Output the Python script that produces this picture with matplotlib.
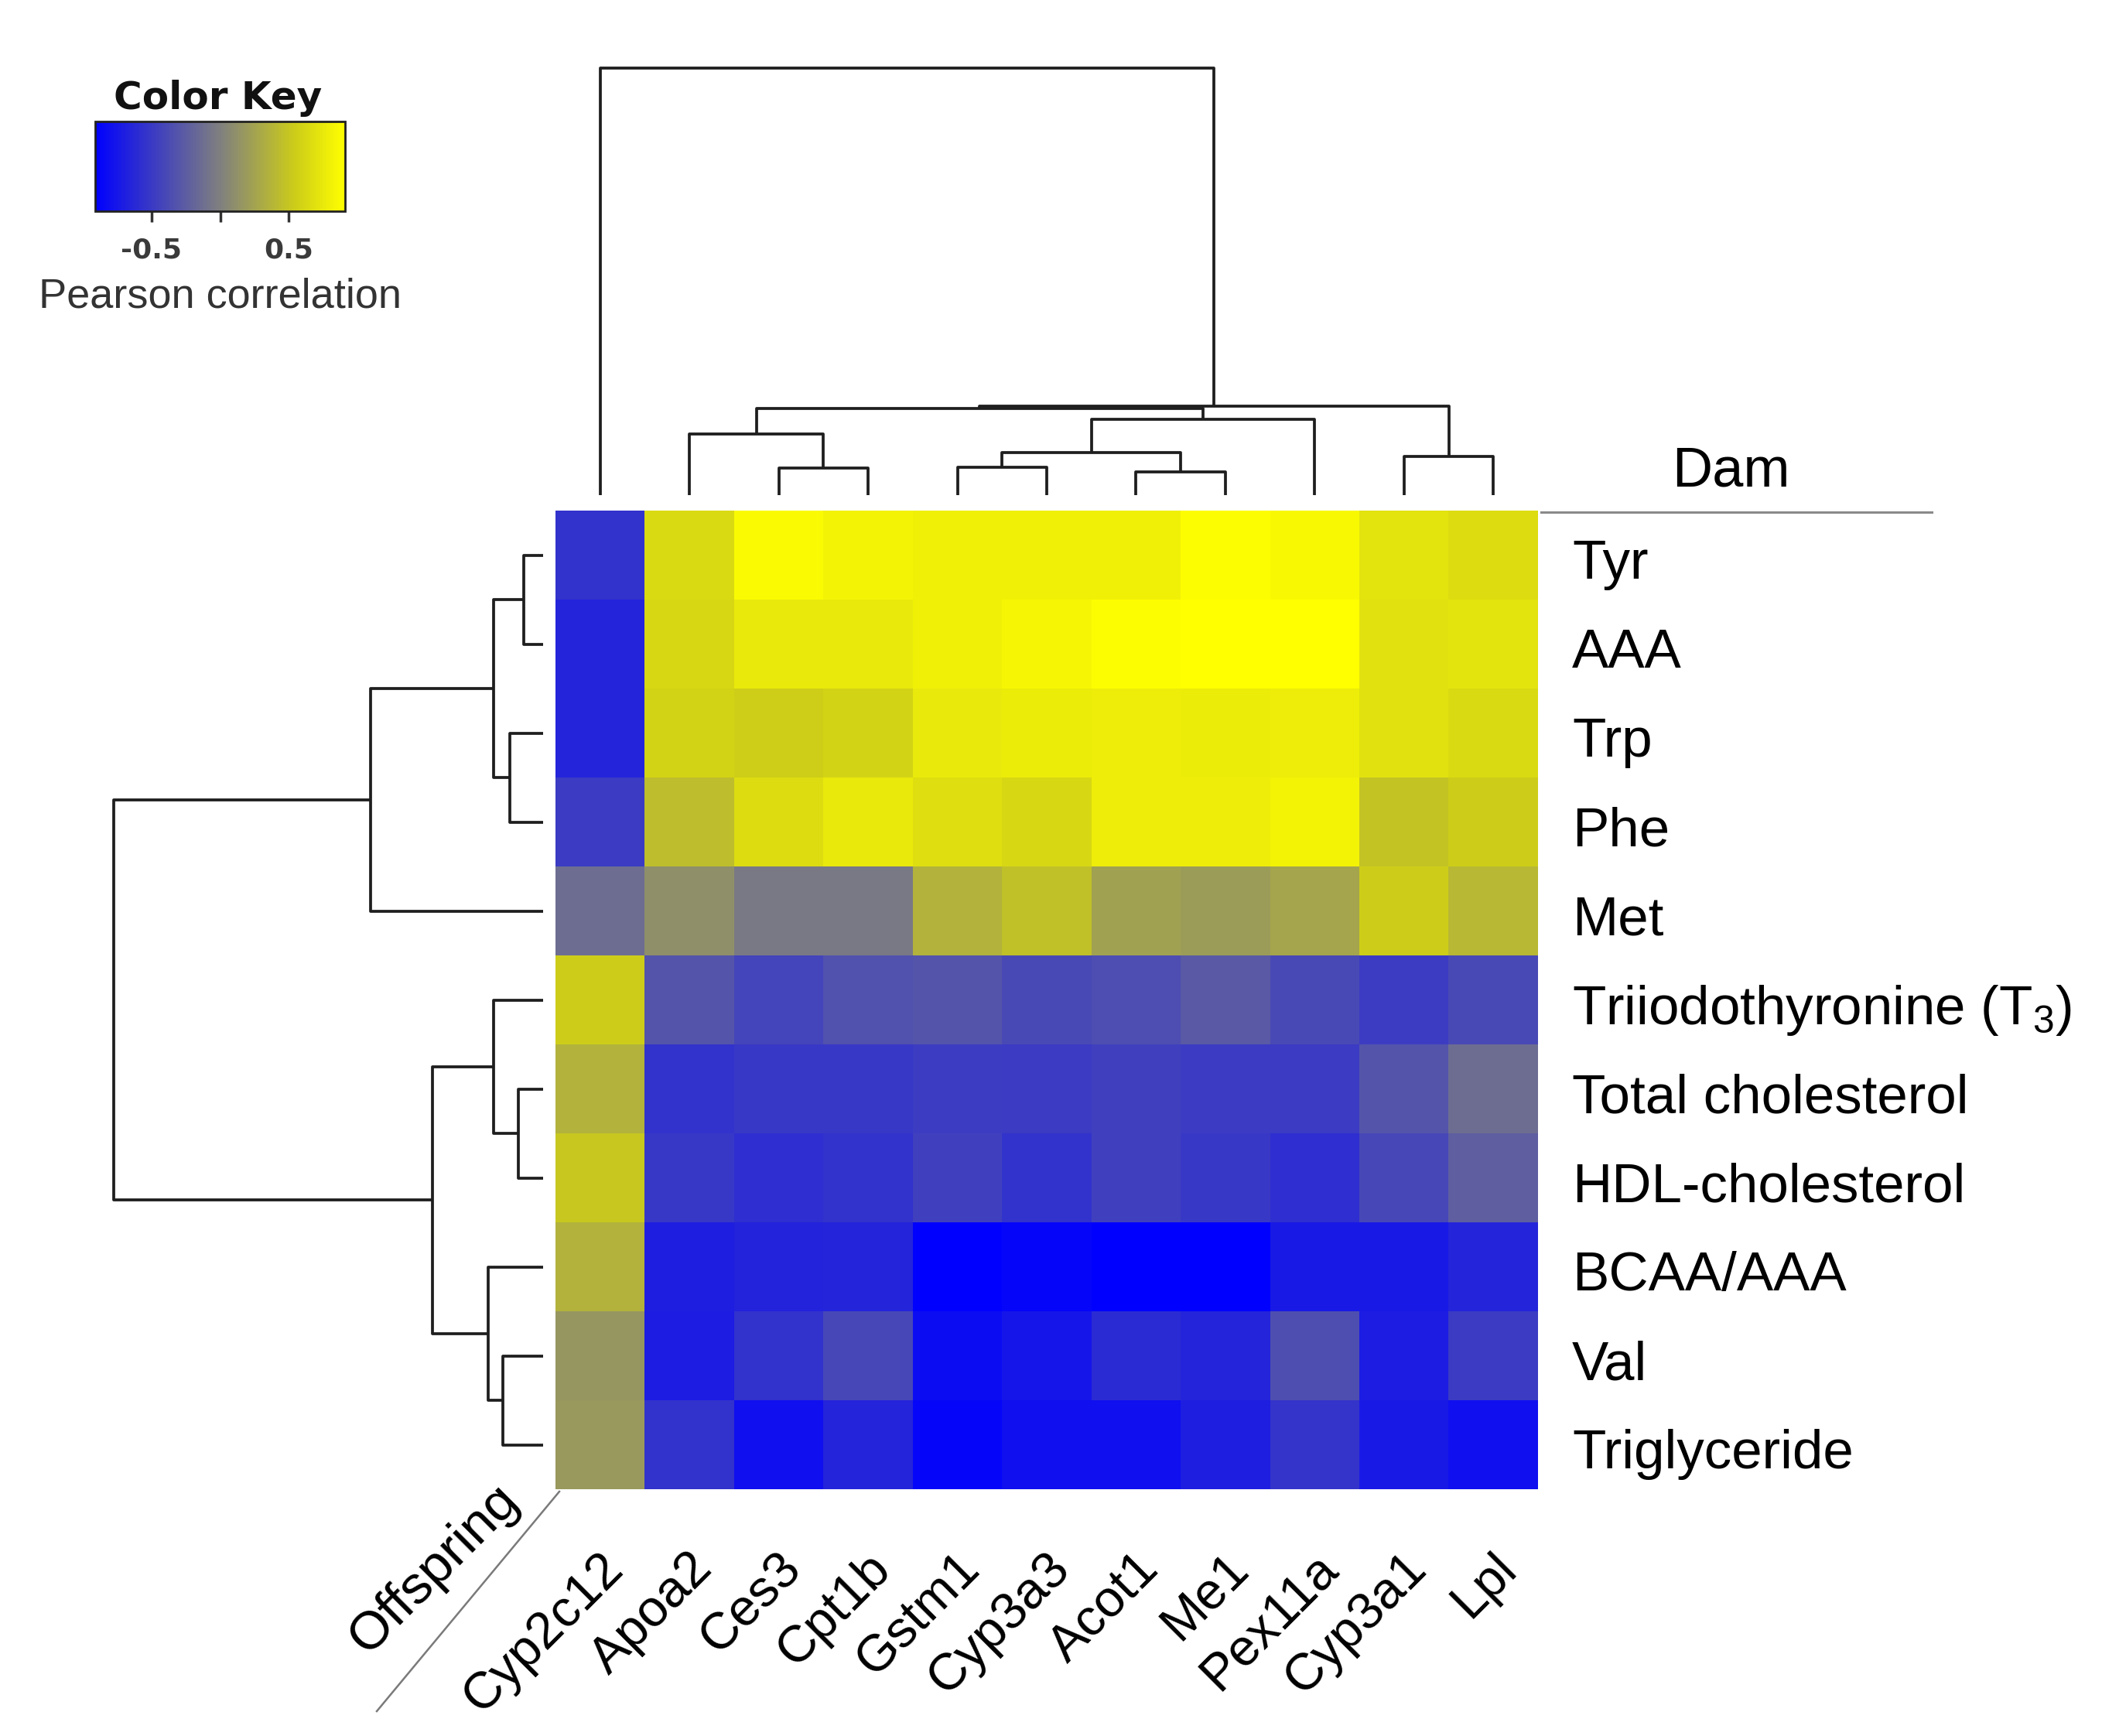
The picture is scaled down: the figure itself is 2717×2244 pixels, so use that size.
import numpy as np
import matplotlib
matplotlib.use("Agg")
import matplotlib.pyplot as plt
from matplotlib.colors import LinearSegmentedColormap

plt.rcParams['font.family'] = ['Liberation Sans', 'DejaVu Sans']
plt.rcParams['mathtext.fontset'] = 'custom'
plt.rcParams['mathtext.rm'] = 'Liberation Sans'
plt.rcParams['mathtext.it'] = 'Liberation Sans:italic'

# ---------------- data ----------------
row_labels = ["Tyr", "AAA", "Trp", "Phe", "Met", "Triiodothyronine (T$_\\mathrm{3}$)",
              "Total cholesterol", "HDL-cholesterol", "BCAA/AAA", "Val", "Triglyceride"]
col_labels = ["Cyp2c12", "Apoa2", "Ces3", "Cpt1b", "Gstm1", "Cyp3a3",
              "Acot1", "Me1", "Pex11a", "Cyp3a1", "Lpl"]

r_tyr   = [-0.55, 0.64, 0.87, 0.82, 0.80, 0.80, 0.80, 0.89, 0.86, 0.71, 0.66]
r_aaa   = [-0.64, 0.62, 0.75, 0.75, 0.80, 0.84, 0.89, 0.91, 0.91, 0.69, 0.71]
r_trp   = [-0.64, 0.60, 0.56, 0.60, 0.75, 0.77, 0.78, 0.77, 0.78, 0.69, 0.64]
r_phe   = [-0.49, 0.44, 0.66, 0.75, 0.67, 0.62, 0.78, 0.78, 0.82, 0.49, 0.55]
r_met   = [-0.13, 0.11, -0.04, -0.04, 0.36, 0.46, 0.24, 0.20, 0.27, 0.55, 0.40]
r_t3    = [0.55, -0.31, -0.42, -0.33, -0.31, -0.38, -0.36, -0.27, -0.38, -0.47, -0.38]
r_tchol = [0.36, -0.55, -0.51, -0.51, -0.47, -0.49, -0.45, -0.49, -0.49, -0.31, -0.13]
r_hdl   = [0.51, -0.51, -0.58, -0.55, -0.45, -0.55, -0.45, -0.51, -0.58, -0.40, -0.24]
r_bcaa  = [0.36, -0.69, -0.66, -0.64, -0.91, -0.87, -0.91, -0.91, -0.73, -0.73, -0.64]
r_val   = [0.16, -0.71, -0.55, -0.40, -0.82, -0.76, -0.60, -0.64, -0.35, -0.71, -0.49]
r_trig  = [0.18, -0.55, -0.80, -0.64, -0.87, -0.80, -0.80, -0.69, -0.53, -0.73, -0.80]

# dendrogram merges: (child_a, child_b, height); children >= 11 refer to earlier merges
row_merges = [(0, 1, 25), (2, 3, 43), (11, 12, 64), (13, 4, 223), (6, 7, 32),
              (5, 15, 64), (9, 10, 52), (8, 17, 71), (16, 18, 143), (14, 19, 555)]
col_merges = [(2, 3, 35), (1, 11, 79), (4, 5, 36), (6, 7, 30), (13, 14, 55),
              (15, 8, 98), (12, 16, 112), (9, 10, 50), (17, 18, 115), (0, 19, 552)]

key_ticks = [-0.5, 0.0, 0.5]
key_ticklabels = ["-0.5", "", "0.5"]
vmin, vmax = -0.91, 0.91

data = np.array([r_tyr, r_aaa, r_trp, r_phe, r_met, r_t3, r_tchol, r_hdl,
                 r_bcaa, r_val, r_trig])
nr, nc = data.shape

# ---------------- layout ----------------
W, H = 2717, 2244
fig = plt.figure(figsize=(W / 100, H / 100), dpi=100)

def rect(x0, y0, x1, y1):
    return [x0 / W, 1 - y1 / H, (x1 - x0) / W, (y1 - y0) / H]

cmap = LinearSegmentedColormap.from_list(
    "by", [(0.0, (0, 0, 1)), (0.5, (0.5, 0.5, 0.5)),
           (0.8, (0.80, 0.80, 0.10)), (1.0, (1, 1, 0))])

hm_l, hm_r, hm_t, hm_b = 718, 1988, 660, 1925
ax = fig.add_axes(rect(hm_l, hm_t, hm_r, hm_b))
im = ax.imshow(data, cmap=cmap, vmin=vmin, vmax=vmax, aspect='auto',
               interpolation='nearest', extent=[0, nc, nr, 0])
ax.set_xlim(0, nc)
ax.set_ylim(nr, 0)
ax.axis('off')

lc = '#1e1e1e'
lw = 2.7

def dendro_coords(merges, n):
    pos = {i: i + 0.5 for i in range(n)}
    hgt = {i: 0.0 for i in range(n)}
    segs = []
    for k, (a, b, h) in enumerate(merges):
        node = n + k
        segs.append(([pos[a], pos[a], pos[b], pos[b]], [hgt[a], h, h, hgt[b]]))
        pos[node] = (pos[a] + pos[b]) / 2
        hgt[node] = h
    return segs

# row dendrogram (left)
axr = fig.add_axes(rect(147, hm_t, 702, hm_b))
for p, h in dendro_coords(row_merges, nr):
    axr.plot(h, p, color=lc, lw=lw, solid_capstyle='butt', clip_on=False)
axr.set_xlim(max(m[2] for m in row_merges), 0)
axr.set_ylim(nr, 0)
axr.axis('off')

# column dendrogram (top)
axc = fig.add_axes(rect(hm_l, 87.5, hm_r, 640))
for p, h in dendro_coords(col_merges, nc):
    axc.plot(p, h, color=lc, lw=lw, solid_capstyle='butt', clip_on=False)
axc.set_xlim(0, nc)
axc.set_ylim(0, max(m[2] for m in col_merges))
axc.axis('off')

# color key
axk = fig.add_axes(rect(123, 157, 446, 273))
cb = fig.colorbar(im, cax=axk, orientation='horizontal')
cb.set_ticks(key_ticks)
cb.set_ticklabels(key_ticklabels)
axk.tick_params(axis='x', length=10, width=2.5, color='#333333', pad=14,
                labelsize=26, labelcolor='#3a3a3a')
for t in axk.get_xticklabels():
    t.set_fontfamily('DejaVu Sans')
    t.set_fontweight('bold')
cb.outline.set_linewidth(2.0)
cb.outline.set_edgecolor('#222222')

# overlay for annotations
ov = fig.add_axes([0, 0, 1, 1], zorder=-1)
ov.set_xlim(0, W)
ov.set_ylim(H, 0)
ov.axis('off')

ov.text(282, 141, "Color Key", fontsize=36, fontweight='bold', family='DejaVu Sans',
        ha='center', va='baseline', color='#111111')
ov.text(285, 397, "Pearson correlation", fontsize=39, ha='center', va='baseline',
        color='#333333')

cell_h = (hm_b - hm_t) / nr
cell_w = (hm_r - hm_l) / nc
for i, lab in enumerate(row_labels):
    ov.text(2032, hm_t + (i + 0.5) * cell_h + 5, lab, fontsize=51, ha='left',
            va='center_baseline', color='black')

for j, lab in enumerate(col_labels):
    ov.text(hm_l + (j + 0.5) * cell_w - 2, 1996, lab, fontsize=48, rotation=45,
            rotation_mode='anchor', ha='right', va='top', color='black')

ov.text(2161, 628, "Dam", fontsize=52, ha='left', va='baseline', color='black')
ov.plot([1992, 2497], [662, 662], color='#8a8a8a', lw=2.2)

ov.text(638, 1906, "Offspring", fontsize=50, rotation=45, rotation_mode='anchor',
        ha='right', va='top', color='black')
ov.plot([723, 487], [1928, 2212], color='#7a7a7a', lw=1.8)

fig.savefig("out.png", dpi=100, facecolor='white')
